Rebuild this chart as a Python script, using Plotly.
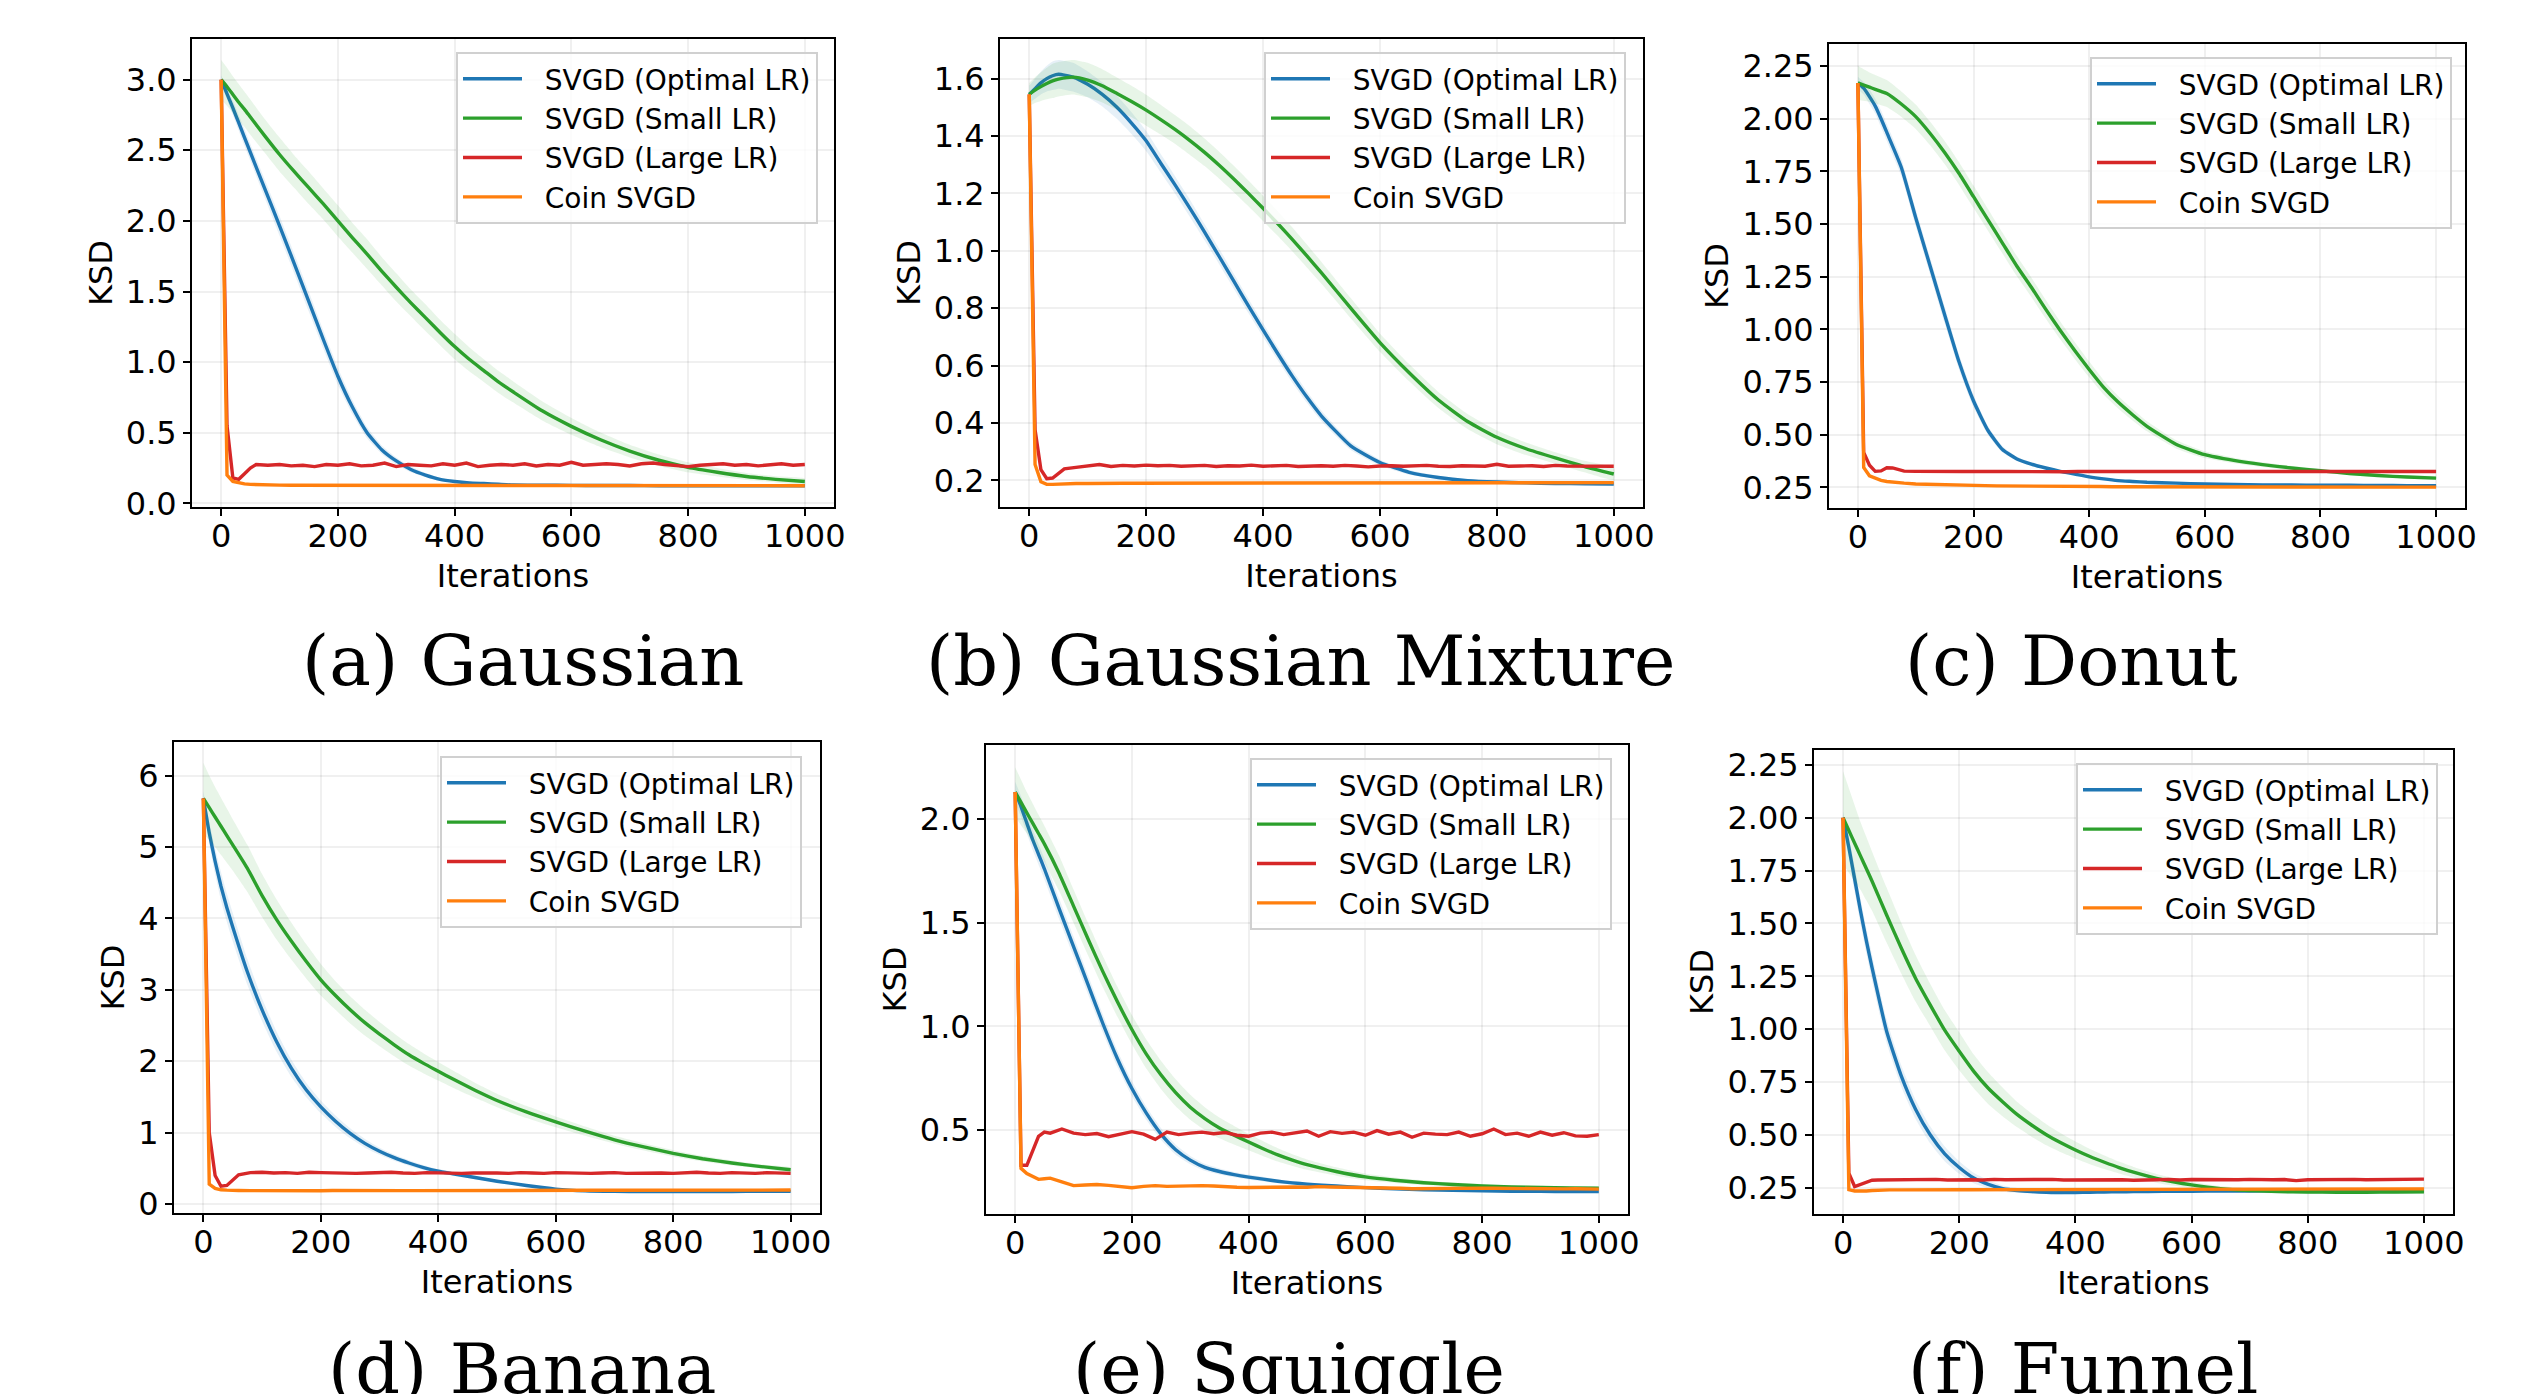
import plotly.graph_objects as go

W, H = 2536, 1394

# ---------------- data ----------------
ITER_S = [0, 10, 20, 30, 40, 50, 75, 100, 125, 150, 175, 200, 225, 250, 275, 300, 325, 350,
          375, 400, 425, 450, 475, 500, 550, 600, 650, 700, 750, 800, 850, 900, 950, 1000]
ITER_R = [0, 10, 20, 30, 40, 50, 60, 80, 100, 120, 140, 160, 180, 200, 220, 240, 260, 280, 300,
          320, 340, 360, 380, 400, 420, 440, 460, 480, 500, 520, 540, 560, 580, 600, 620, 640,
          660, 680, 700, 720, 740, 760, 780, 800, 820, 840, 860, 880, 900, 920, 940, 960, 980, 1000]

SERIES_NAMES = ["SVGD (Optimal LR)", "SVGD (Small LR)", "SVGD (Large LR)", "Coin SVGD"]
X_TICKS = [0, 200, 400, 600, 800, 1000]
CAPTIONS = ["(a) Gaussian", "(b) Gaussian Mixture", "(c) Donut",
            "(d) Banana", "(e) Squiggle", "(f) Funnel"]

# (a) Gaussian
GAUSS_OPT = [3.0, 2.90, 2.80, 2.695, 2.59, 2.485, 2.225, 1.965, 1.70, 1.43,
             1.16, 0.90, 0.68, 0.50, 0.38, 0.30, 0.24, 0.20, 0.17, 0.155,
             0.145, 0.14, 0.135, 0.13, 0.128, 0.127, 0.126, 0.126, 0.125, 0.125,
             0.125, 0.125, 0.125, 0.125]
GAUSS_OPT_SD = [0.03, 0.04, 0.05, 0.055, 0.06, 0.06, 0.065, 0.07, 0.07, 0.07,
                0.065, 0.06, 0.05, 0.04, 0.03, 0.025, 0.02, 0.015, 0.012, 0.01,
                0.008, 0.006, 0.005, 0.004, 0.003, 0.003, 0.003, 0.003, 0.003, 0.003,
                0.003, 0.003, 0.003, 0.003]
GAUSS_SMALL = [3.0, 2.95, 2.895, 2.84, 2.79, 2.735, 2.60, 2.47, 2.35, 2.235,
               2.12, 2.0, 1.88, 1.765, 1.645, 1.53, 1.42, 1.315, 1.21, 1.11,
               1.02, 0.94, 0.86, 0.79, 0.655, 0.545, 0.45, 0.37, 0.305, 0.255,
               0.22, 0.19, 0.17, 0.155]
GAUSS_SMALL_SD = [0.14, 0.135, 0.13, 0.13, 0.125, 0.125, 0.12, 0.12, 0.115, 0.115,
                  0.11, 0.11, 0.105, 0.105, 0.1, 0.1, 0.095, 0.095, 0.09, 0.09,
                  0.085, 0.08, 0.078, 0.075, 0.068, 0.06, 0.052, 0.045, 0.04, 0.035,
                  0.03, 0.025, 0.022, 0.02]
GAUSS_LARGE = [3.0, 0.55, 0.18, 0.17, 0.21, 0.25, 0.275,
               0.27, 0.275, 0.265, 0.27, 0.26, 0.275, 0.27, 0.28, 0.265, 0.27,
               0.285, 0.26, 0.275, 0.27, 0.265, 0.28, 0.27, 0.285, 0.26, 0.27,
               0.275, 0.27, 0.28, 0.265, 0.275, 0.27, 0.29, 0.27, 0.275, 0.28,
               0.275, 0.265, 0.28, 0.285, 0.275, 0.27, 0.26, 0.27, 0.275, 0.28,
               0.27, 0.275, 0.265, 0.275, 0.28, 0.27, 0.275]
GAUSS_COIN = [3.0, 0.2, 0.155, 0.145, 0.138, 0.134, 0.132,
              0.13, 0.129, 0.128, 0.128, 0.127, 0.127, 0.127, 0.127, 0.127, 0.126,
              0.126, 0.126, 0.126, 0.126, 0.126, 0.126, 0.126, 0.126, 0.126, 0.126,
              0.126, 0.126, 0.126, 0.125, 0.125, 0.125, 0.125, 0.125, 0.125, 0.125,
              0.125, 0.125, 0.125, 0.125, 0.125, 0.125, 0.125, 0.125, 0.125, 0.125,
              0.125, 0.125, 0.125, 0.125, 0.125, 0.125, 0.125]

# (b) Gaussian Mixture
MIX_OPT = [1.545, 1.565, 1.585, 1.6, 1.61, 1.615, 1.605, 1.58, 1.545, 1.5,
           1.445, 1.383, 1.305, 1.228, 1.148, 1.065, 0.98, 0.894, 0.808, 0.724,
           0.642, 0.563, 0.49, 0.424, 0.32, 0.262, 0.228, 0.21, 0.199, 0.194,
           0.191, 0.189, 0.188, 0.187]
MIX_OPT_SD = [0.03, 0.035, 0.04, 0.045, 0.05, 0.05, 0.05, 0.045, 0.042, 0.04,
              0.038, 0.035, 0.032, 0.03, 0.03, 0.028, 0.027, 0.026, 0.025, 0.024,
              0.023, 0.022, 0.02, 0.018, 0.014, 0.01, 0.008, 0.006, 0.005, 0.005,
              0.004, 0.004, 0.004, 0.004]
MIX_SMALL = [1.545, 1.56, 1.572, 1.583, 1.592, 1.598, 1.605, 1.595, 1.575, 1.548,
             1.52, 1.49, 1.457, 1.422, 1.384, 1.343, 1.298, 1.25, 1.2, 1.148,
             1.095, 1.04, 0.982, 0.923, 0.8, 0.68, 0.575, 0.48, 0.405, 0.35,
             0.31, 0.278, 0.248, 0.222]
MIX_SMALL_SD = [0.04, 0.045, 0.05, 0.055, 0.06, 0.06, 0.06, 0.06, 0.058, 0.056,
                0.055, 0.054, 0.052, 0.05, 0.05, 0.048, 0.047, 0.046, 0.045, 0.044,
                0.043, 0.042, 0.04, 0.038, 0.035, 0.032, 0.03, 0.028, 0.026, 0.024,
                0.022, 0.02, 0.02, 0.02]
MIX_LARGE = [1.545, 0.376, 0.237, 0.206, 0.208, 0.225, 0.24,
             0.245, 0.25, 0.255, 0.248, 0.252, 0.25, 0.253, 0.251, 0.252, 0.249,
             0.25, 0.252, 0.248, 0.251, 0.25, 0.253, 0.249, 0.25, 0.252, 0.248,
             0.25, 0.251, 0.249, 0.252, 0.25, 0.247, 0.25, 0.251, 0.249, 0.25,
             0.252, 0.249, 0.248, 0.251, 0.25, 0.249, 0.256, 0.249, 0.25, 0.251,
             0.248, 0.252, 0.25, 0.249, 0.251, 0.25, 0.249]
MIX_COIN = [1.545, 0.255, 0.195, 0.186, 0.186, 0.187, 0.188,
            0.189, 0.189, 0.19, 0.19, 0.19, 0.19, 0.19, 0.19, 0.19, 0.19,
            0.19, 0.19, 0.19, 0.19, 0.19, 0.19, 0.19, 0.19, 0.19, 0.19,
            0.19, 0.19, 0.19, 0.19, 0.19, 0.191, 0.191, 0.191, 0.191, 0.191,
            0.191, 0.191, 0.191, 0.191, 0.191, 0.192, 0.192, 0.192, 0.192, 0.192,
            0.192, 0.192, 0.192, 0.192, 0.192, 0.192, 0.192]

# (c) Donut
DONUT_OPT = [2.17, 2.145, 2.105, 2.06, 2.0, 1.935, 1.77, 1.53, 1.3, 1.07,
             0.845, 0.66, 0.52, 0.43, 0.385, 0.36, 0.342, 0.326, 0.313, 0.3,
             0.29, 0.282, 0.278, 0.274, 0.27, 0.266, 0.264, 0.262, 0.261, 0.26,
             0.26, 0.259, 0.258, 0.258]
DONUT_OPT_SD = [0.03, 0.03, 0.035, 0.035, 0.04, 0.04, 0.04, 0.04, 0.04, 0.04,
                0.035, 0.03, 0.02, 0.015, 0.01, 0.008, 0.007, 0.006, 0.006, 0.005,
                0.005, 0.005, 0.005, 0.005, 0.005, 0.005, 0.005, 0.005, 0.005, 0.005,
                0.005, 0.005, 0.005, 0.005]
DONUT_SMALL = [2.17, 2.16, 2.15, 2.14, 2.13, 2.12, 2.07, 2.01, 1.93, 1.84,
               1.74, 1.63, 1.52, 1.41, 1.3, 1.2, 1.095, 0.995, 0.9, 0.81,
               0.725, 0.655, 0.595, 0.54, 0.455, 0.405, 0.378, 0.358, 0.342, 0.329,
               0.316, 0.306, 0.299, 0.294]
DONUT_SMALL_SD = [0.08, 0.075, 0.07, 0.068, 0.066, 0.064, 0.06, 0.058, 0.056, 0.055,
                  0.054, 0.053, 0.052, 0.05, 0.048, 0.046, 0.044, 0.042, 0.04, 0.037,
                  0.034, 0.03, 0.027, 0.024, 0.02, 0.016, 0.013, 0.011, 0.01, 0.009,
                  0.008, 0.008, 0.007, 0.007]
DONUT_LARGE = [2.17, 0.416, 0.355, 0.326, 0.328, 0.343, 0.342,
               0.327, 0.326, 0.325, 0.326, 0.325, 0.325, 0.326, 0.324, 0.325, 0.325,
               0.324, 0.325, 0.325, 0.324, 0.324, 0.325, 0.325, 0.326, 0.325, 0.325,
               0.326, 0.325, 0.324, 0.325, 0.325, 0.326, 0.326, 0.325, 0.325, 0.326,
               0.325, 0.326, 0.325, 0.325, 0.324, 0.325, 0.325, 0.326, 0.325, 0.325,
               0.325, 0.326, 0.325, 0.325, 0.325, 0.325, 0.325]
DONUT_COIN = [2.17, 0.345, 0.305, 0.293, 0.283, 0.278, 0.274,
              0.27, 0.266, 0.264, 0.262, 0.261, 0.26, 0.259, 0.258, 0.257, 0.257,
              0.256, 0.256, 0.255, 0.255, 0.255, 0.254, 0.254, 0.254, 0.253, 0.253,
              0.253, 0.253, 0.253, 0.252, 0.252, 0.252, 0.252, 0.252, 0.252, 0.252,
              0.252, 0.252, 0.252, 0.251, 0.251, 0.251, 0.251, 0.251, 0.251, 0.251,
              0.251, 0.251, 0.251, 0.251, 0.251, 0.251, 0.251]

# (d) Banana
BANANA_OPT = [5.68, 5.2, 4.8, 4.45, 4.15, 3.88, 3.25, 2.72, 2.27, 1.9,
              1.6, 1.36, 1.16, 0.99, 0.85, 0.74, 0.65, 0.575, 0.51, 0.46,
              0.425, 0.39, 0.355, 0.32, 0.26, 0.21, 0.185, 0.178, 0.176, 0.176,
              0.177, 0.177, 0.178, 0.178]
BANANA_OPT_SD = [0.1, 0.15, 0.18, 0.2, 0.2, 0.2, 0.18, 0.16, 0.14, 0.12,
                 0.1, 0.09, 0.08, 0.07, 0.06, 0.05, 0.045, 0.04, 0.035, 0.03,
                 0.028, 0.025, 0.022, 0.02, 0.016, 0.012, 0.01, 0.01, 0.01, 0.01,
                 0.01, 0.01, 0.01, 0.01]
BANANA_SMALL = [5.68, 5.55, 5.42, 5.29, 5.16, 5.03, 4.7, 4.32, 3.98, 3.68,
                3.4, 3.14, 2.92, 2.72, 2.54, 2.38, 2.23, 2.09, 1.97, 1.86,
                1.75, 1.645, 1.545, 1.45, 1.29, 1.15, 1.02, 0.9, 0.8, 0.71,
                0.635, 0.575, 0.525, 0.48]
BANANA_SMALL_SD = [0.5, 0.45, 0.42, 0.4, 0.38, 0.36, 0.33, 0.3, 0.28, 0.26,
                   0.24, 0.22, 0.2, 0.19, 0.18, 0.17, 0.16, 0.15, 0.14, 0.13,
                   0.12, 0.11, 0.1, 0.095, 0.085, 0.075, 0.065, 0.055, 0.05, 0.045,
                   0.04, 0.035, 0.03, 0.03]
BANANA_LARGE = [5.68, 1.0, 0.4, 0.25, 0.26, 0.33, 0.41,
                0.44, 0.445, 0.435, 0.44, 0.43, 0.445, 0.44, 0.435, 0.44, 0.43,
                0.435, 0.44, 0.445, 0.435, 0.43, 0.44, 0.435, 0.44, 0.43, 0.435,
                0.44, 0.435, 0.43, 0.44, 0.435, 0.43, 0.44, 0.435, 0.44, 0.43,
                0.435, 0.44, 0.43, 0.435, 0.44, 0.435, 0.43, 0.44, 0.445, 0.435,
                0.43, 0.44, 0.435, 0.43, 0.44, 0.435, 0.43]
BANANA_COIN = [5.68, 0.28, 0.22, 0.2, 0.195, 0.19, 0.19,
               0.188, 0.186, 0.185, 0.185, 0.186, 0.186, 0.187, 0.19, 0.188, 0.187,
               0.187, 0.187, 0.188, 0.188, 0.188, 0.189, 0.189, 0.189, 0.19, 0.19,
               0.19, 0.19, 0.191, 0.191, 0.191, 0.192, 0.192, 0.192, 0.192, 0.193,
               0.193, 0.193, 0.193, 0.194, 0.194, 0.194, 0.194, 0.195, 0.195, 0.195,
               0.195, 0.195, 0.196, 0.196, 0.196, 0.196, 0.196]

# (e) Squiggle
SQUIG_OPT = [2.13, 2.06, 1.98, 1.9, 1.83, 1.76, 1.57, 1.385, 1.2, 1.015,
             0.845, 0.7, 0.58, 0.48, 0.405, 0.355, 0.32, 0.3, 0.285, 0.273,
             0.263, 0.253, 0.245, 0.239, 0.23, 0.222, 0.216, 0.212, 0.209, 0.207,
             0.205, 0.204, 0.203, 0.203]
SQUIG_OPT_SD = [0.05, 0.05, 0.05, 0.05, 0.05, 0.05, 0.05, 0.048, 0.046, 0.044,
                0.04, 0.036, 0.032, 0.028, 0.024, 0.02, 0.017, 0.015, 0.013, 0.012,
                0.011, 0.01, 0.009, 0.008, 0.007, 0.006, 0.005, 0.005, 0.005, 0.005,
                0.005, 0.005, 0.005, 0.005]
SQUIG_SMALL = [2.13, 2.08, 2.03, 1.98, 1.93, 1.88, 1.74, 1.58, 1.42, 1.265,
               1.12, 0.985, 0.865, 0.765, 0.68, 0.61, 0.555, 0.51, 0.475, 0.442,
               0.41, 0.38, 0.355, 0.333, 0.3, 0.274, 0.258, 0.246, 0.237, 0.23,
               0.226, 0.223, 0.221, 0.219]
SQUIG_SMALL_SD = [0.12, 0.11, 0.1, 0.095, 0.09, 0.088, 0.085, 0.08, 0.078, 0.075,
                  0.072, 0.07, 0.07, 0.068, 0.065, 0.06, 0.055, 0.05, 0.045, 0.04,
                  0.036, 0.032, 0.028, 0.025, 0.02, 0.016, 0.013, 0.011, 0.01, 0.009,
                  0.008, 0.008, 0.007, 0.007]
SQUIG_LARGE = [2.13, 0.33, 0.33, 0.40, 0.47, 0.49, 0.485,
               0.505, 0.485, 0.478, 0.483, 0.468, 0.48, 0.492, 0.48, 0.455, 0.49,
               0.478, 0.485, 0.49, 0.482, 0.488, 0.475, 0.47, 0.485, 0.49, 0.478,
               0.488, 0.495, 0.47, 0.492, 0.484, 0.49, 0.475, 0.497, 0.48, 0.49,
               0.465, 0.485, 0.48, 0.478, 0.49, 0.47, 0.482, 0.505, 0.478, 0.485,
               0.47, 0.49, 0.475, 0.487, 0.472, 0.47, 0.478]
SQUIG_COIN = [2.13, 0.315, 0.29, 0.275, 0.262, 0.265, 0.268,
              0.25, 0.232, 0.235, 0.237, 0.233, 0.228, 0.222, 0.228, 0.232, 0.228,
              0.23, 0.228, 0.232, 0.23, 0.226, 0.224, 0.223, 0.224, 0.226, 0.223,
              0.225, 0.224, 0.227, 0.225, 0.224, 0.226, 0.225, 0.222, 0.221, 0.219,
              0.217, 0.218, 0.217, 0.219, 0.218, 0.219, 0.22, 0.219, 0.218, 0.216,
              0.215, 0.216, 0.217, 0.216, 0.217, 0.216, 0.215]

# (f) Funnel
FUNNEL_OPT = [2.0, 1.86, 1.71, 1.56, 1.42, 1.29, 0.99, 0.78, 0.62, 0.5,
              0.41, 0.345, 0.295, 0.265, 0.245, 0.236, 0.231, 0.228, 0.226, 0.227,
              0.228, 0.229, 0.23, 0.231, 0.232, 0.233, 0.234, 0.234, 0.235, 0.235,
              0.235, 0.236, 0.236, 0.236]
FUNNEL_OPT_SD = [0.03, 0.05, 0.06, 0.06, 0.06, 0.06, 0.055, 0.05, 0.045, 0.04,
                 0.035, 0.03, 0.025, 0.02, 0.015, 0.012, 0.01, 0.008, 0.007, 0.006,
                 0.005, 0.005, 0.005, 0.005, 0.005, 0.005, 0.005, 0.005, 0.005, 0.005,
                 0.005, 0.005, 0.005, 0.005]
FUNNEL_SMALL = [2.0, 1.94, 1.88, 1.82, 1.76, 1.7, 1.54, 1.385, 1.24, 1.115,
                0.995, 0.895, 0.8, 0.72, 0.655, 0.595, 0.545, 0.5, 0.462, 0.428,
                0.397, 0.37, 0.345, 0.323, 0.287, 0.263, 0.245, 0.236, 0.231, 0.229,
                0.228, 0.228, 0.229, 0.23]
FUNNEL_SMALL_SD = [0.22, 0.2, 0.18, 0.16, 0.15, 0.14, 0.13, 0.12, 0.11, 0.1,
                   0.095, 0.09, 0.08, 0.075, 0.068, 0.06, 0.055, 0.05, 0.045, 0.04,
                   0.036, 0.032, 0.028, 0.025, 0.02, 0.015, 0.012, 0.01, 0.008, 0.008,
                   0.008, 0.008, 0.008, 0.008]
FUNNEL_LARGE = [2.0, 0.318, 0.255, 0.265, 0.275, 0.285, 0.286,
                0.287, 0.286, 0.288, 0.287, 0.289, 0.286, 0.288, 0.287, 0.286, 0.289,
                0.287, 0.288, 0.286, 0.287, 0.289, 0.286, 0.287, 0.288, 0.286, 0.289,
                0.287, 0.285, 0.288, 0.287, 0.289, 0.286, 0.288, 0.287, 0.286, 0.288,
                0.287, 0.289, 0.286, 0.287, 0.288, 0.283, 0.287, 0.288, 0.286, 0.288,
                0.289, 0.287, 0.288, 0.289, 0.288, 0.29, 0.29]
FUNNEL_COIN = [2.0, 0.24, 0.234, 0.233, 0.234, 0.236, 0.238,
               0.239, 0.239, 0.24, 0.24, 0.24, 0.24, 0.24, 0.24, 0.24, 0.24,
               0.241, 0.241, 0.241, 0.241, 0.241, 0.241, 0.241, 0.241, 0.241, 0.241,
               0.242, 0.242, 0.242, 0.242, 0.242, 0.242, 0.242, 0.242, 0.242, 0.242,
               0.243, 0.243, 0.243, 0.243, 0.243, 0.243, 0.243, 0.243, 0.243, 0.243,
               0.244, 0.244, 0.244, 0.244, 0.244, 0.244, 0.244]

# y tick values per panel
TICKS_A = [0.0, 0.5, 1.0, 1.5, 2.0, 2.5, 3.0]
TICKS_B = [0.2, 0.4, 0.6, 0.8, 1.0, 1.2, 1.4, 1.6]
TICKS_C = [0.25, 0.5, 0.75, 1.0, 1.25, 1.5, 1.75, 2.0, 2.25]
TICKS_D = [0, 1, 2, 3, 4, 5, 6]
TICKS_E = [0.5, 1.0, 1.5, 2.0]
TICKS_F = [0.25, 0.5, 0.75, 1.0, 1.25, 1.5, 1.75, 2.0, 2.25]

# ---------------- panel table (built from the arrays above) ----------------
PANEL_DATA = [
    (GAUSS_OPT, GAUSS_OPT_SD, GAUSS_SMALL, GAUSS_SMALL_SD, GAUSS_LARGE, GAUSS_COIN, TICKS_A),
    (MIX_OPT, MIX_OPT_SD, MIX_SMALL, MIX_SMALL_SD, MIX_LARGE, MIX_COIN, TICKS_B),
    (DONUT_OPT, DONUT_OPT_SD, DONUT_SMALL, DONUT_SMALL_SD, DONUT_LARGE, DONUT_COIN, TICKS_C),
    (BANANA_OPT, BANANA_OPT_SD, BANANA_SMALL, BANANA_SMALL_SD, BANANA_LARGE, BANANA_COIN, TICKS_D),
    (SQUIG_OPT, SQUIG_OPT_SD, SQUIG_SMALL, SQUIG_SMALL_SD, SQUIG_LARGE, SQUIG_COIN, TICKS_E),
    (FUNNEL_OPT, FUNNEL_OPT_SD, FUNNEL_SMALL, FUNNEL_SMALL_SD, FUNNEL_LARGE, FUNNEL_COIN, TICKS_F),
]

# ---------------- layout / style (pixels) ----------------
BOXES = [(192, 834, 39, 507), (1000, 1643, 39, 507), (1829, 2465, 44, 508),
         (174, 820, 742, 1213), (986, 1628, 745, 1214), (1814, 2453, 750, 1214)]
YRANGES = [(-0.026, 3.288), (0.107, 1.738), (0.152, 2.355),
           (-0.125, 6.47), (0.095, 2.357), (0.125, 2.321)]
YFORMATS = [".1f", ".1f", ".2f", "d", ".1f", ".2f"]
LEGEND_POS = [(456, 52), (1264, 52), (2090, 57), (440, 756), (1250, 758), (2076, 763)]
CAPTION_POS = [(523, 661), (1300, 661), (2071, 661), (522, 1369), (1289, 1369), (2083, 1369)]

COLORS = ["#1f77b4", "#2ca02c", "#d62728", "#ff7f0e"]
BANDS = ["rgba(31,119,180,0.11)", "rgba(44,160,44,0.11)"]
FONT = "DejaVu Sans"
LW = 3.4
GAP = "\u00a0\u00a0"  # gap between legend line sample and label

for arr in [d for row in PANEL_DATA for d in row[:4]]:
    assert len(arr) == len(ITER_S)
for row in PANEL_DATA:
    assert len(row[4]) == len(ITER_R) and len(row[5]) == len(ITER_R)

fig = go.Figure()
layout = dict(width=W, height=H, margin=dict(l=0, r=0, t=0, b=0),
              paper_bgcolor="white", plot_bgcolor="white",
              font=dict(family=FONT, size=32, color="black"),
              showlegend=True, annotations=[])

for k, (opt, opt_sd, small, small_sd, large, coin, yt) in enumerate(PANEL_DATA):
    sfx = "" if k == 0 else str(k + 1)
    xa, ya = "x" + sfx, "y" + sfx
    leg = "legend" + sfx

    for mean, sd, band_col, col, name in [(opt, opt_sd, BANDS[0], COLORS[0], SERIES_NAMES[0]),
                                          (small, small_sd, BANDS[1], COLORS[1], SERIES_NAMES[1])]:
        upper = [m + s for m, s in zip(mean, sd)]
        lower = [m - s for m, s in zip(mean, sd)]
        fig.add_trace(go.Scatter(x=ITER_S + ITER_S[::-1], y=upper + lower[::-1],
                                 fill="toself", fillcolor=band_col,
                                 line=dict(width=0, shape="spline", smoothing=0.5),
                                 mode="lines", hoverinfo="skip", showlegend=False,
                                 xaxis=xa, yaxis=ya))
        fig.add_trace(go.Scatter(x=ITER_S, y=mean, mode="lines", name=GAP + name,
                                 line=dict(color=col, width=LW, shape="spline", smoothing=0.5),
                                 legend=leg, xaxis=xa, yaxis=ya))
    fig.add_trace(go.Scatter(x=ITER_R, y=large, mode="lines", name=GAP + SERIES_NAMES[2],
                             line=dict(color=COLORS[2], width=LW), legend=leg,
                             xaxis=xa, yaxis=ya))
    fig.add_trace(go.Scatter(x=ITER_R, y=coin, mode="lines", name=GAP + SERIES_NAMES[3],
                             line=dict(color=COLORS[3], width=LW), legend=leg,
                             xaxis=xa, yaxis=ya))

    l, r, t, b = BOXES[k]
    common = dict(ticks="outside", ticklen=7, tickwidth=1.6, tickcolor="black",
                  showline=True, mirror=True, linecolor="black", linewidth=1.8,
                  showgrid=True, gridcolor="rgba(0,0,0,0.06)", gridwidth=1.5,
                  zeroline=False, automargin=False, tickfont=dict(size=32, family=FONT))
    layout["xaxis" + sfx] = dict(domain=[l / W, r / W], range=[-50, 1050], tickvals=X_TICKS,
                                 anchor=ya, ticklabelstandoff=-7,
                                 title=dict(text="Iterations", standoff=10,
                                            font=dict(size=32, family=FONT)),
                                 **common)
    layout["yaxis" + sfx] = dict(domain=[1 - b / H, 1 - t / H], range=list(YRANGES[k]),
                                 tickvals=yt, tickformat=YFORMATS[k], anchor=xa,
                                 title=dict(text="KSD", standoff=4,
                                            font=dict(size=32, family=FONT)),
                                 **common)
    lx, ly = LEGEND_POS[k]
    layout[leg] = dict(x=lx / W, y=1 - ly / H, xanchor="left", yanchor="top",
                       bgcolor="rgba(255,255,255,0.8)", bordercolor="#d0d0d0", borderwidth=2,
                       itemwidth=59,
                       font=dict(size=28, family=FONT, color="black"))
    cx, cy = CAPTION_POS[k]
    layout["annotations"].append(dict(text=CAPTIONS[k], x=cx / W, y=1 - cy / H,
                                      xref="paper", yref="paper", xanchor="center",
                                      yanchor="middle", showarrow=False,
                                      font=dict(family="DejaVu Serif", size=70, color="black")))

fig.update_layout(**layout)
fig.write_html("out.html")
